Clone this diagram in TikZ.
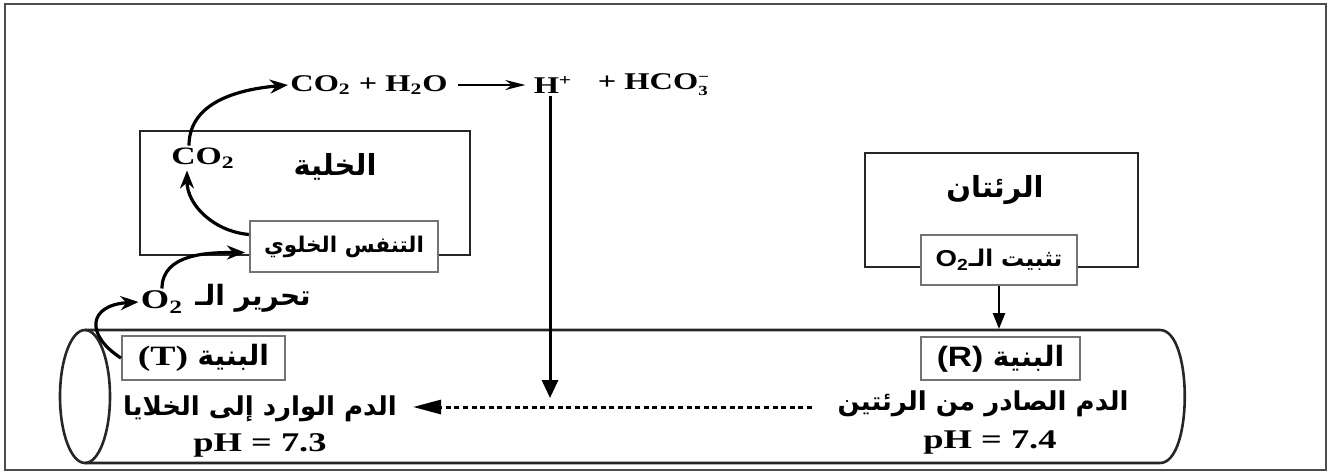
\documentclass[tikz,border=0pt]{standalone}
\usepackage{fontspec}
\setmainfont{Liberation Serif}[FakeStretch=1.35]
\newfontfamily\arabicfont[Script=Arabic]{DejaVu Sans}
\newfontfamily\arialb{Liberation Sans}[FakeStretch=1.2]
\TeXXeTstate=1
\usetikzlibrary{arrows.meta}
\newcommand{\AR}[1]{{\arabicfont\bfseries\beginR #1\endR}}
\begin{document}
\begin{tikzpicture}[x=0.5pt,y=0.5pt,
  frame/.style={draw=black!70, line width=1pt},
  bigbox/.style={draw=black!85, line width=1pt, inner sep=0pt},
  smallbox/.style={draw=black!55, line width=1pt, fill=white, inner sep=0pt},
  tube/.style={draw=black!85, line width=1.3pt},
  arr/.style={line width=1.6pt, -{Stealth[length=9pt,width=7pt]}},
  chem/.style={inner sep=1pt, font=\bfseries\fontsize{12}{14}\selectfont},
  ph/.style={inner sep=1pt, font=\bfseries\fontsize{13.5}{15}\selectfont},
  artitle/.style={inner sep=1pt, font=\fontsize{14.5}{16}\selectfont},
  arbox/.style={inner sep=1pt, font=\fontsize{10.8}{12}\selectfont},
  arblood/.style={inner sep=1pt, font=\fontsize{13}{15}\selectfont}]
\useasboundingbox (0,0) rectangle (1332,-472);
\draw[frame] (5,-4) rectangle (1326,-470);

% tube
\draw[tube] (85,-330) -- (1160,-330) .. controls (1193,-330) and (1193,-463) .. (1160,-463) -- (85,-463);
\draw[tube] (85,-396.5) ellipse [x radius=25, y radius=66.5];

% cell
\node[bigbox, minimum width=165pt, minimum height=62pt] (cell) at (305,-193) {};
\node[artitle] (cellname) at (335,-167) {\AR{الخلية}};
\node[chem, font=\bfseries\fontsize{12.5}{14}\selectfont] (co2in) at (203,-158) {CO\textsubscript{2}};
\node[smallbox, arbox, minimum width=94pt, minimum height=25.5pt] (resp) at (344,-246.5) {\AR{التنفس الخلوي}};

% lungs
\node[bigbox, minimum width=136.5pt, minimum height=57pt] (lungs) at (1001.5,-210) {};
\node[artitle] (lungsname) at (995,-190) {\AR{الرئتان}};
\node[smallbox, arbox, font=\fontsize{11.5}{13}\selectfont, minimum width=78pt, minimum height=25pt] (fix) at (999,-260) {{\arialb\bfseries O\textsubscript{2}}\AR{تثبيت الـ}};

% equation
\node[chem] (eq1) at (369,-85) {CO\textsubscript{2} + H\textsubscript{2}O};
\node[chem] (hplus) at (553,-85) {H\textsuperscript{+}};
\node[chem] (hco3) at (654,-85) {+ HCO$^{\mbox{\scriptsize\bfseries −}}_{\mbox{\scriptsize\bfseries 3}}$};

% structures
\node[smallbox, ph, font=\bfseries\fontsize{14}{16}\selectfont, minimum width=81.5pt, minimum height=22pt] (T) at (203.5,-358) {(T)~\AR{البنية}};
\node[smallbox, ph, font=\bfseries\fontsize{14}{16}\selectfont, minimum width=79.5pt, minimum height=21.5pt] (R) at (1000.5,-358.5) {{\arialb\bfseries (R)}~\AR{البنية}};

\node[arblood] (intext) at (260,-409) {\AR{الدم الوارد إلى الخلايا}};
\node[ph] (ph73) at (260,-445) {pH = 7.3};
\node[arblood] (outtext) at (983,-404) {\AR{الدم الصادر من الرئتين}};
\node[ph] (ph74) at (990,-442) {pH = 7.4};

% O2 release
\node[chem, font=\bfseries\fontsize{13.5}{15}\selectfont] (o2) at (162,-302) {O\textsubscript{2}};
\node[arblood, font=\fontsize{14}{16}\selectfont] (release) at (253,-298) {\AR{تحرير الـ}};

% coordinates
\coordinate (hEnd) at (550,-398);
\coordinate (tubeR) at (999,-329);
\coordinate (dashS) at (812,-407);
\coordinate (dashE) at (413,-407);

% connectors
\draw[line width=1.2pt, -{Stealth[length=10pt,width=5pt]}, shorten <=4pt, shorten >=3pt] (eq1.east) -- (hplus.west);
\draw[line width=1.5pt, -{Triangle[length=9pt,width=8pt]}] ([xshift=-1.5pt]hplus.south) -- (hEnd);
\draw[line width=1.3pt, -{Triangle[length=8pt,width=6pt]}] (fix.south) -- (tubeR);
\draw[line width=1.5pt, dash pattern=on 2.5pt off 1.8pt, -{Triangle[length=14pt,width=7pt]}] (dashS) -- (dashE);

\draw[arr] ([xshift=-7pt]co2in.north) to[out=90,in=185] (eq1.west);
\draw[arr] ([yshift=6pt]resp.west) to[out=175,in=-90] ([xshift=-8pt]co2in.south);
\draw[arr] (o2.north) to[out=90,in=180] ([yshift=-3pt,xshift=-2pt]resp.west);
\draw[arr] (T.west) .. controls (85,-335) and (88,-305) .. (o2.west);
\end{tikzpicture}
\end{document}
